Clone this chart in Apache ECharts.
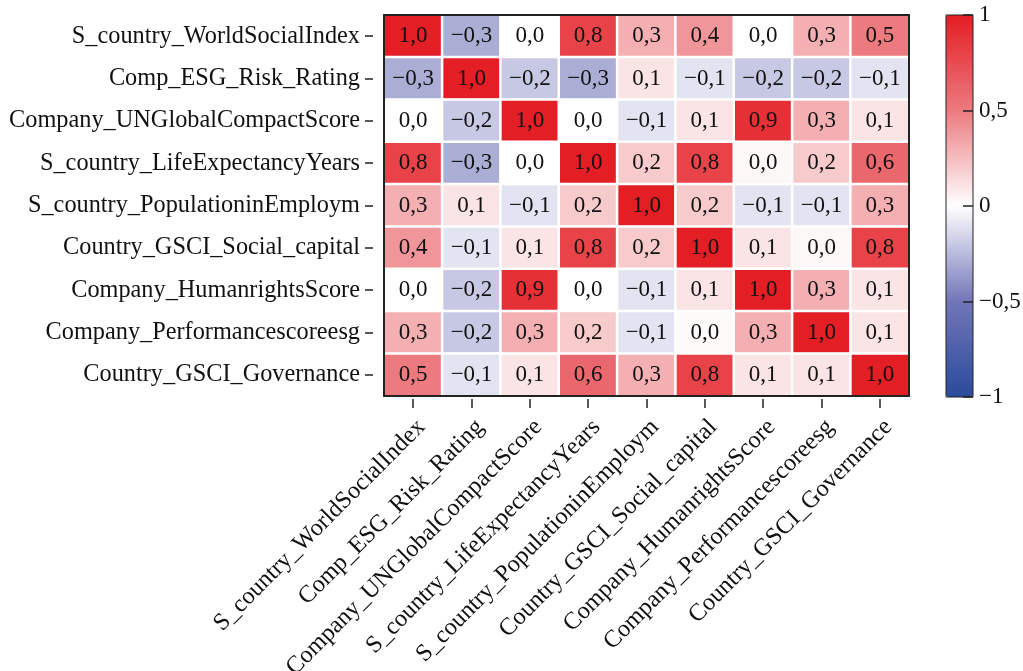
<!DOCTYPE html>
<html>
<head>
<meta charset="utf-8">
<script src="https://cdn.jsdelivr.net/npm/echarts@6/dist/echarts.min.js"></script>
<style>
  html, body { margin: 0; padding: 0; background: #fff; }
  #main { width: 1023px; height: 671px; }
</style>
</head>
<body>
<div id="main"></div>
<script>
// variable names, same order for rows (top to bottom) and columns (left to right)
var vars = [
  'S_country_WorldSocialIndex',
  'Comp_ESG_Risk_Rating',
  'Company_UNGlobalCompactScore',
  'S_country_LifeExpectancyYears',
  'S_country_PopulationinEmploym',
  'Country_GSCI_Social_capital',
  'Company_HumanrightsScore',
  'Company_Performancescoreesg',
  'Country_GSCI_Governance'
];

// correlation matrix, one array per row
var r1 = [1.0, -0.3, 0.0, 0.8, 0.3, 0.4, 0.0, 0.3, 0.5];
var r2 = [-0.3, 1.0, -0.2, -0.3, 0.1, -0.1, -0.2, -0.2, -0.1];
var r3 = [0.0, -0.2, 1.0, 0.0, -0.1, 0.1, 0.9, 0.3, 0.1];
var r4 = [0.8, -0.3, 0.0, 1.0, 0.2, 0.8, 0.03, 0.2, 0.6];
var r5 = [0.3, 0.1, -0.1, 0.2, 1.0, 0.2, -0.1, -0.1, 0.3];
var r6 = [0.4, -0.1, 0.1, 0.8, 0.2, 1.0, 0.1, 0.03, 0.8];
var r7 = [0.0, -0.2, 0.9, 0.0, -0.1, 0.1, 1.0, 0.3, 0.1];
var r8 = [0.3, -0.2, 0.3, 0.2, -0.1, 0.02, 0.3, 1.0, 0.1];
var r9 = [0.5, -0.1, 0.1, 0.6, 0.3, 0.8, 0.1, 0.1, 1.0];
var rows = [r1, r2, r3, r4, r5, r6, r7, r8, r9];

// colour bar ticks
var barTicks = [-1, -0.5, 0, 0.5, 1];

var font = "'Liberation Serif', 'Times New Roman', serif";
var fs = 23;      // cell and colour bar labels
var axisFs = 24.3; // variable names

function fmt(v) {
  var s = (Math.round(v * 10) / 10).toFixed(1).replace('.', ',');
  if (s.charAt(0) === '-') s = '\u2212' + s.slice(1);
  return s;
}
function fmtTick(v) {
  var s = String(v).replace('.', ',');
  if (s.charAt(0) === '-') s = '\u2212' + s.slice(1);
  return s;
}

var cells = [];
rows.forEach(function (row, i) {
  row.forEach(function (v, j) {
    cells.push([j, i, v]);
  });
});

var frameLine = { show: true, onZero: false, lineStyle: { color: '#222', width: 2 } };
var hiddenLine = { show: true, onZero: false, lineStyle: { color: 'rgba(0,0,0,0)' } };
var tickStyle = { color: '#222', width: 1.5 };

// a category axis that only draws one side of the frame
function frameAxis(pos, inverse) {
  return {
    type: 'category', data: vars, gridIndex: 0, position: pos, inverse: !!inverse, z: 5,
    axisLine: frameLine, axisTick: { show: false }, axisLabel: { show: false },
    splitLine: { show: false }
  };
}

var myChart = echarts.init(document.getElementById('main'));

option = {
  backgroundColor: '#fff',
  animation: false,
  textStyle: { fontFamily: font },
  grid: [
    { left: 384, top: 15, width: 525, height: 381, outerBoundsMode: 'none', containLabel: false },
    { left: 946, top: 15, width: 27, height: 382, outerBoundsMode: 'none', containLabel: false,
      show: true, borderColor: '#222', borderWidth: 1, z: 10 }
  ],
  xAxis: [
    {
      type: 'category',
      data: vars,
      gridIndex: 0,
      position: 'bottom',
      offset: 3,
      axisLine: hiddenLine,
      axisTick: { show: true, alignWithLabel: true, length: 9, lineStyle: tickStyle },
      axisLabel: {
        rotate: 45, interval: 0, margin: 16, verticalAlign: 'top',
        color: '#111', fontSize: axisFs, fontFamily: font
      },
      splitLine: { show: false }
    },
    frameAxis('top'),
    frameAxis('bottom'),
    {
      type: 'value', gridIndex: 1, show: false, min: 0, max: 1
    }
  ],
  yAxis: [
    {
      type: 'category',
      data: vars,
      inverse: true,
      gridIndex: 0,
      position: 'left',
      offset: 11,
      axisLine: hiddenLine,
      axisTick: { show: true, alignWithLabel: true, length: 8, lineStyle: tickStyle },
      axisLabel: {
        interval: 0, margin: 13,
        color: '#111', fontSize: axisFs, fontFamily: font
      },
      splitLine: { show: false }
    },
    frameAxis('right', true),
    frameAxis('left', true),
    {
      type: 'value',
      gridIndex: 1,
      position: 'right',
      min: barTicks[0],
      max: barTicks[barTicks.length - 1],
      interval: 0.5,
      z: 10,
      axisLine: hiddenLine,
      axisTick: { show: true, inside: true, length: 10, lineStyle: tickStyle },
      axisLabel: {
        margin: 6, color: '#111', fontSize: fs, fontFamily: font,
        formatter: fmtTick
      },
      splitLine: { show: false }
    }
  ],
  visualMap: {
    type: 'continuous',
    min: -1,
    max: 1,
    seriesIndex: 0,
    calculable: false,
    hoverLink: false,
    left: 946,
    top: 15,
    padding: 0,
    itemWidth: 27,
    itemHeight: 382,
    showLabel: false,
    inRange: {
      color: ['#2a4b9c', '#7276b8', '#ffffff', '#ec7a7f', '#e31e24']
    }
  },
  series: [
    {
      type: 'heatmap',
      data: cells,
      xAxisIndex: 0,
      yAxisIndex: 0,
      itemStyle: { borderColor: '#fff', borderWidth: 2.5 },
      label: {
        show: true,
        color: '#111',
        fontSize: fs,
        fontFamily: font,
        formatter: function (p) { return fmt(p.value[2]); }
      }
    },
    {
      type: 'scatter',
      xAxisIndex: 3,
      yAxisIndex: 3,
      data: []
    }
  ]
};
myChart.setOption(option);
</script>
</body>
</html>
